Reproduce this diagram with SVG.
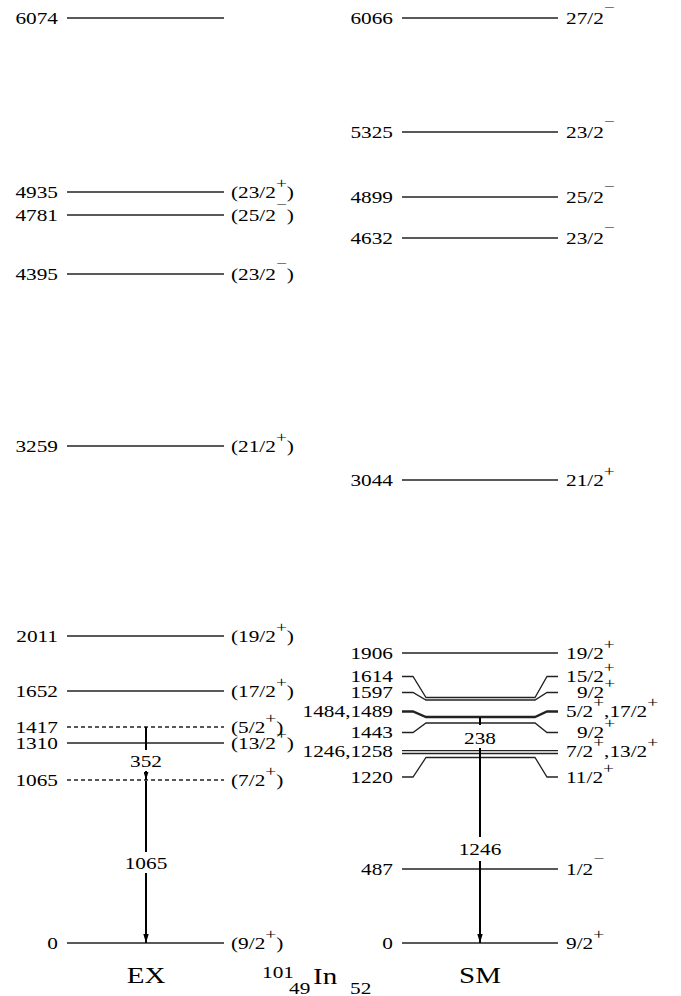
<svg xmlns="http://www.w3.org/2000/svg" width="681" height="996" viewBox="0 0 681 996">
<style>
text{font-family:"Liberation Serif","Times New Roman",serif;font-size:16.5px;fill:#000}
.e{text-anchor:end}
.m{text-anchor:middle}
.sup{font-size:15px}
.big{font-size:22.5px}
.lv{stroke:#222;stroke-width:1.3;fill:none}
.dash{stroke-dasharray:4 3}
.thick{stroke-width:2.3}
.tr{stroke:#000;stroke-width:2;fill:none}
.bg{fill:#fff}
</style>
<defs>
<marker id="ah" viewBox="0 0 10 6" refX="10" refY="3" markerWidth="9" markerHeight="6" markerUnits="userSpaceOnUse" orient="auto"><path d="M0,0 L10,3 L0,6 z" fill="#000"/></marker>
<marker id="ahs" viewBox="0 0 10 6" refX="10" refY="3" markerWidth="8" markerHeight="5" markerUnits="userSpaceOnUse" orient="auto"><path d="M0,0 L10,3 L0,6 z" fill="#000"/></marker>
</defs>

<g id="EX">
<g id="ex6074"><line class="lv" x1="67" y1="18" x2="224" y2="18"/><text class="e" transform="translate(58,24) scale(1.29,1)">6074</text></g>
<g id="ex4935"><line class="lv" x1="67" y1="192" x2="224" y2="192"/><text class="e" transform="translate(58,198) scale(1.29,1)">4935</text><text transform="translate(231,198) scale(1.29,1)">(23/2<tspan class="sup" dy="-10">+</tspan><tspan dy="10">)</tspan></text></g>
<g id="ex4781"><line class="lv" x1="67" y1="215" x2="224" y2="215"/><text class="e" transform="translate(58,221) scale(1.29,1)">4781</text><text transform="translate(231,221) scale(1.29,1)">(25/2<tspan class="sup" dy="-12.5">−</tspan><tspan dy="12.5">)</tspan></text></g>
<g id="ex4395"><line class="lv" x1="67" y1="274" x2="224" y2="274"/><text class="e" transform="translate(58,280) scale(1.29,1)">4395</text><text transform="translate(231,280) scale(1.29,1)">(23/2<tspan class="sup" dy="-12.5">−</tspan><tspan dy="12.5">)</tspan></text></g>
<g id="ex3259"><line class="lv" x1="67" y1="446" x2="224" y2="446"/><text class="e" transform="translate(58,452) scale(1.29,1)">3259</text><text transform="translate(231,452) scale(1.29,1)">(21/2<tspan class="sup" dy="-10">+</tspan><tspan dy="10">)</tspan></text></g>
<g id="ex2011"><line class="lv" x1="67" y1="636" x2="224" y2="636"/><text class="e" transform="translate(58,642) scale(1.29,1)">2011</text><text transform="translate(231,642) scale(1.29,1)">(19/2<tspan class="sup" dy="-10">+</tspan><tspan dy="10">)</tspan></text></g>
<g id="ex1652"><line class="lv" x1="67" y1="691" x2="224" y2="691"/><text class="e" transform="translate(58,697) scale(1.29,1)">1652</text><text transform="translate(231,697) scale(1.29,1)">(17/2<tspan class="sup" dy="-10">+</tspan><tspan dy="10">)</tspan></text></g>
<g id="ex1417"><line class="lv dash" x1="67" y1="727" x2="224" y2="727"/><text class="e" transform="translate(58,733) scale(1.29,1)">1417</text><text transform="translate(231,733) scale(1.29,1)">(5/2<tspan class="sup" dy="-10">+</tspan><tspan dy="10">)</tspan></text></g>
<g id="ex1310"><line class="lv" x1="67" y1="743" x2="224" y2="743"/><text class="e" transform="translate(58,749) scale(1.29,1)">1310</text><text transform="translate(231,749) scale(1.29,1)">(13/2<tspan class="sup" dy="-10">+</tspan><tspan dy="10">)</tspan></text></g>
<g id="ex1065"><line class="lv dash" x1="67" y1="780" x2="224" y2="780"/><text class="e" transform="translate(58,786) scale(1.29,1)">1065</text><text transform="translate(231,786) scale(1.29,1)">(7/2<tspan class="sup" dy="-10">+</tspan><tspan dy="10">)</tspan></text></g>
<g id="ex0"><line class="lv" x1="67" y1="943" x2="224" y2="943"/><text class="e" transform="translate(58,949) scale(1.29,1)">0</text><text transform="translate(231,949) scale(1.29,1)">(9/2<tspan class="sup" dy="-10">+</tspan><tspan dy="10">)</tspan></text></g>
</g>

<g id="SM">
<g id="sm6066"><line class="lv" x1="402" y1="18" x2="558" y2="18"/><text class="e" transform="translate(393,24) scale(1.29,1)">6066</text><text transform="translate(566,24) scale(1.29,1)">27/2<tspan class="sup" dy="-12.5">−</tspan></text></g>
<g id="sm5325"><line class="lv" x1="402" y1="132" x2="558" y2="132"/><text class="e" transform="translate(393,138) scale(1.29,1)">5325</text><text transform="translate(566,138) scale(1.29,1)">23/2<tspan class="sup" dy="-12.5">−</tspan></text></g>
<g id="sm4899"><line class="lv" x1="402" y1="197" x2="558" y2="197"/><text class="e" transform="translate(393,203) scale(1.29,1)">4899</text><text transform="translate(566,203) scale(1.29,1)">25/2<tspan class="sup" dy="-12.5">−</tspan></text></g>
<g id="sm4632"><line class="lv" x1="402" y1="238" x2="558" y2="238"/><text class="e" transform="translate(393,244) scale(1.29,1)">4632</text><text transform="translate(566,244) scale(1.29,1)">23/2<tspan class="sup" dy="-12.5">−</tspan></text></g>
<g id="sm3044"><line class="lv" x1="402" y1="480" x2="558" y2="480"/><text class="e" transform="translate(393,486) scale(1.29,1)">3044</text><text transform="translate(566,486) scale(1.29,1)">21/2<tspan class="sup" dy="-10">+</tspan></text></g>
<g id="sm1906"><line class="lv" x1="402" y1="653" x2="558" y2="653"/><text class="e" transform="translate(393,659) scale(1.29,1)">1906</text><text transform="translate(566,659) scale(1.29,1)">19/2<tspan class="sup" dy="-10">+</tspan></text></g>
<g id="sm1614"><path class="lv" d="M402,676.5 H413 L426,697.5 H535 L547,676.5 H558"/><text class="e" transform="translate(393,682) scale(1.29,1)">1614</text><text transform="translate(566,682) scale(1.29,1)">15/2<tspan class="sup" dy="-10">+</tspan></text></g>
<g id="sm1597"><path class="lv" d="M402,692.5 H413 L426,700 H535 L547,692.5 H558"/><text class="e" transform="translate(393,698) scale(1.29,1)">1597</text><text transform="translate(577,698) scale(1.29,1)">9/2<tspan class="sup" dy="-10">+</tspan></text></g>
<g id="sm1484"><path class="lv thick" d="M402,711.5 H413 L426,717 H535 L547,711.5 H558"/><text class="e" transform="translate(393,717) scale(1.29,1)">1484,1489</text><text transform="translate(566,717) scale(1.29,1)">5/2<tspan class="sup" dy="-10">+</tspan><tspan dy="10">,17/2</tspan><tspan class="sup" dy="-10">+</tspan></text></g>
<g id="sm1443"><path class="lv" d="M402,732.5 H413 L426,723 H535 L547,732.5 H558"/><text class="e" transform="translate(393,738) scale(1.29,1)">1443</text><text transform="translate(577,738) scale(1.29,1)">9/2<tspan class="sup" dy="-10">+</tspan></text></g>
<g id="sm1246"><line class="lv" x1="402" y1="750.7" x2="558" y2="750.7"/><line class="lv" x1="402" y1="753.5" x2="558" y2="753.5"/><text class="e" transform="translate(393,757) scale(1.29,1)">1246,1258</text><text transform="translate(566,757) scale(1.29,1)">7/2<tspan class="sup" dy="-10">+</tspan><tspan dy="10">,13/2</tspan><tspan class="sup" dy="-10">+</tspan></text></g>
<g id="sm1220"><path class="lv" d="M402,777 H413 L426,757.5 H535 L547,777 H558"/><text class="e" transform="translate(393,783) scale(1.29,1)">1220</text><text transform="translate(566,783) scale(1.29,1)">11/2<tspan class="sup" dy="-10">+</tspan></text></g>
<g id="sm487"><line class="lv" x1="402" y1="869" x2="558" y2="869"/><text class="e" transform="translate(393,875) scale(1.29,1)">487</text><text transform="translate(566,875) scale(1.29,1)">1/2<tspan class="sup" dy="-12.5">−</tspan></text></g>
<g id="sm0"><line class="lv" x1="402" y1="943" x2="558" y2="943"/><text class="e" transform="translate(393,949) scale(1.29,1)">0</text><text transform="translate(566,949) scale(1.29,1)">9/2<tspan class="sup" dy="-10">+</tspan></text></g>
</g>

<g id="transitions">
<line class="tr" x1="146" y1="727" x2="146" y2="780" stroke-width="2.4" marker-end="url(#ahs)"/>
<rect class="bg" x="127" y="750" width="38" height="21"/>
<text class="m" transform="translate(146,767) scale(1.29,1)">352</text>
<line class="tr" x1="146" y1="781" x2="146" y2="943" marker-end="url(#ah)"/>
<rect class="bg" x="123" y="852" width="46" height="21"/>
<text class="m" transform="translate(146,869) scale(1.29,1)">1065</text>
<line class="tr" x1="480" y1="717" x2="480" y2="943" marker-end="url(#ah)"/>
<rect class="bg" x="461" y="725" width="38" height="23"/>
<text class="m" transform="translate(480,744) scale(1.29,1)">238</text>
<rect class="bg" x="456" y="837" width="48" height="24"/>
<text class="m" transform="translate(480,855) scale(1.29,1)">1246</text>
</g>

<g id="titles">
<text class="m big" transform="translate(146,983) scale(1.29,1)">EX</text>
<text class="m big" transform="translate(480,983) scale(1.29,1)">SM</text>
<text transform="translate(262,978) scale(1.29,1)">101</text>
<text transform="translate(289,994) scale(1.29,1)">49</text>
<text class="big" transform="translate(313,984) scale(1.29,1)">In</text>
<text transform="translate(350,994) scale(1.29,1)">52</text>
</g>
</svg>
